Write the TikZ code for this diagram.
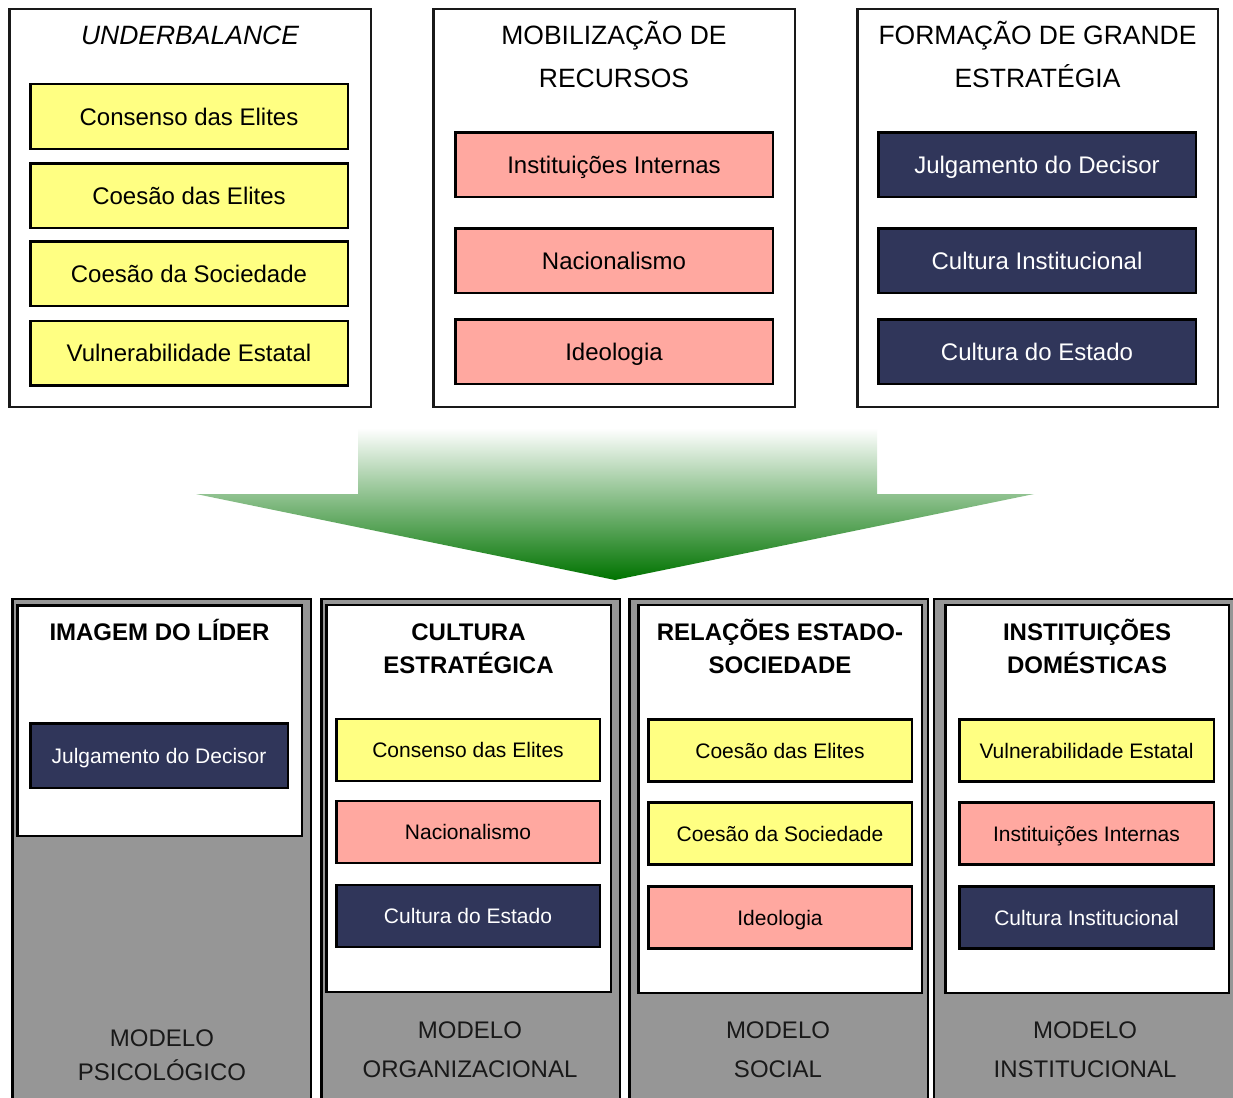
\documentclass[tikz,border=0pt]{standalone}
\usepackage{fontspec}
\setmainfont{Liberation Sans}
\definecolor{ylw}{RGB}{255,255,130}
\definecolor{slm}{RGB}{255,168,160}
\definecolor{nvy}{RGB}{48,54,90}
\definecolor{pgray}{RGB}{150,150,150}
\definecolor{agreen}{RGB}{0,115,0}
\begin{document}
\begin{tikzpicture}[x=1pt,y=-1pt,
  outerbox/.style={draw=black!90, line width=2.5pt, fill=white, inner sep=0pt, outer sep=0pt},
  panelbox/.style={draw=black, line width=2.5pt, fill=pgray, inner sep=0pt, outer sep=0pt},
  whitebox/.style={draw=black, line width=2.5pt, fill=white, inner sep=0pt, outer sep=0pt},
  item/.style={draw=black, line width=2.5pt, inner sep=0pt, outer sep=0pt, text depth=0pt},
  topitem/.style={item, minimum height=64.5pt, text height=17.2pt, font=\fontsize{24}{28}\selectfont},
  botitem/.style={item, minimum height=62pt, text height=15pt, font=\fontsize{21}{25}\selectfont},
  yitem/.style={fill=ylw, text=black},
  sitem/.style={fill=slm, text=black},
  nitem/.style={fill=nvy, text=white},
  toptitle/.style={inner sep=0pt, text height=19pt, text depth=0pt, font=\fontsize{26.5}{30}\selectfont},
  bottitle/.style={inner sep=0pt, text height=17.2pt, text depth=0pt, font=\fontsize{24}{28}\selectfont\bfseries},
  modeltxt/.style={inner sep=0pt, text height=17.2pt, text depth=0pt, text=black!90, font=\fontsize{24}{28}\selectfont}
]
\useasboundingbox (0,0) rectangle (1233,1097);
\clip (0,0) rectangle (1233,1097);
\fill[white] (0,0) rectangle (1233,1097);

% ---------- top groups ----------
\node[outerbox, minimum width=361.5pt, minimum height=397.5pt] (g1) at (190,208) {};
\node[outerbox, minimum width=361.5pt, minimum height=397.5pt] (g2) at (614,208) {};
\node[outerbox, minimum width=360.5pt, minimum height=397.5pt] (g3) at (1037.5,208) {};

\node[toptitle] (t1) at (190,35) {\itshape UNDERBALANCE};
\node[toptitle] (t2a) at (614,35) {MOBILIZAÇÃO DE};
\node[toptitle] (t2b) at (614,78) {RECURSOS};
\node[toptitle] (t3a) at (1037.5,35) {FORMAÇÃO DE GRANDE};
\node[toptitle] (t3b) at (1037.5,78) {ESTRATÉGIA};

\node[topitem, yitem, minimum width=317.5pt] (a1) at (189,116.5) {Consenso das Elites};
\node[topitem, yitem, minimum width=317.5pt] (a2) at (189,195.5) {Coesão das Elites};
\node[topitem, yitem, minimum width=317.5pt] (a3) at (189,273.5) {Coesão da Sociedade};
\node[topitem, yitem, minimum width=317.5pt] (a4) at (189,353) {Vulnerabilidade Estatal};

\node[topitem, sitem, minimum width=317.5pt] (b1) at (614,164.5) {Instituições Internas};
\node[topitem, sitem, minimum width=317.5pt] (b2) at (614,260.5) {Nacionalismo};
\node[topitem, sitem, minimum width=317.5pt] (b3) at (614,351.5) {Ideologia};

\node[topitem, nitem, minimum width=317.5pt] (c1) at (1037,164.5) {Julgamento do Decisor};
\node[topitem, nitem, minimum width=317.5pt] (c2) at (1037,260.5) {Cultura Institucional};
\node[topitem, nitem, minimum width=317.5pt] (c3) at (1037,351.5) {Cultura do Estado};

% ---------- arrow ----------
\shade[top color=white, bottom color=agreen]
  (358,428) -- (877,428) -- (877,494) -- (1034,494) -- (615,580) -- (196,494) -- (358,494) -- cycle;

% ---------- bottom panels ----------
\node[panelbox, minimum width=298.5pt, minimum height=521pt] (p1) at (161.5,859.5) {};
\node[panelbox, minimum width=298.5pt, minimum height=521pt] (p2) at (470.5,859.5) {};
\node[panelbox, minimum width=298.5pt, minimum height=521pt] (p3) at (778.5,859.5) {};
\node[panelbox, minimum width=306pt, minimum height=521pt] (p4) at (1087,859.5) {};

\node[whitebox, minimum width=284.5pt, minimum height=230.5pt] (w1) at (159.5,720.5) {};
\node[whitebox, minimum width=284.5pt, minimum height=386.75pt] (w2) at (468.5,798.6) {};
\node[whitebox, minimum width=283.5pt, minimum height=387.75pt] (w3) at (780,799.1) {};
\node[whitebox, minimum width=283.5pt, minimum height=387.75pt] (w4) at (1087,799.1) {};

\node[bottitle] (h1) at (159.5,632) {IMAGEM DO LÍDER};
\node[bottitle] (h2a) at (468.5,632) {CULTURA};
\node[bottitle] (h2b) at (468.5,665) {ESTRATÉGICA};
\node[bottitle] (h3a) at (780,632) {RELAÇÕES ESTADO-};
\node[bottitle] (h3b) at (780,665) {SOCIEDADE};
\node[bottitle] (h4a) at (1087,632) {INSTITUIÇÕES};
\node[bottitle] (h4b) at (1087,665) {DOMÉSTICAS};

\node[botitem, nitem, minimum width=257.5pt, minimum height=64.5pt] (d1) at (159,755.5) {Julgamento do Decisor};

\node[botitem, yitem, minimum width=263.5pt] (e1) at (468,750) {Consenso das Elites};
\node[botitem, sitem, minimum width=263.5pt] (e2) at (468,832) {Nacionalismo};
\node[botitem, nitem, minimum width=263.5pt] (e3) at (468,916) {Cultura do Estado};

\node[botitem, yitem, minimum width=263.5pt] (f1) at (780,750.5) {Coesão das Elites};
\node[botitem, yitem, minimum width=263.5pt] (f2) at (780,833.5) {Coesão da Sociedade};
\node[botitem, sitem, minimum width=263.5pt] (f3) at (780,917.5) {Ideologia};

\node[botitem, yitem, minimum width=254.5pt] (k1) at (1086.5,750.5) {Vulnerabilidade Estatal};
\node[botitem, sitem, minimum width=254.5pt] (k2) at (1086.5,833.5) {Instituições Internas};
\node[botitem, nitem, minimum width=254.5pt] (k3) at (1086.5,917.5) {Cultura Institucional};

\node[modeltxt] (m1a) at (162,1038) {MODELO};
\node[modeltxt] (m1b) at (162,1072) {PSICOLÓGICO};
\node[modeltxt] (m2a) at (470,1030) {MODELO};
\node[modeltxt] (m2b) at (470,1069) {ORGANIZACIONAL};
\node[modeltxt] (m3a) at (778,1030) {MODELO};
\node[modeltxt] (m3b) at (778,1069) {SOCIAL};
\node[modeltxt] (m4a) at (1085,1030) {MODELO};
\node[modeltxt] (m4b) at (1085,1069) {INSTITUCIONAL};
\end{tikzpicture}
\end{document}
